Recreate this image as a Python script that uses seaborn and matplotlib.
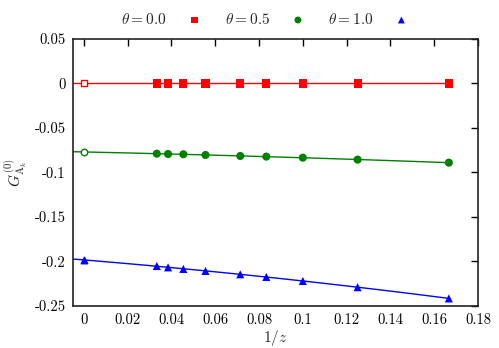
import numpy as np
import pandas as pd
import matplotlib
matplotlib.use("Agg")
import matplotlib.pyplot as plt
from matplotlib.ticker import MultipleLocator
import seaborn as sns

# data: 1/z for z = 30, 26, 22, 18, 14, 12, 10, 8, 6
inv_z = [1/30, 1/26, 1/22, 1/18, 1/14, 1/12, 1/10, 1/8, 1/6]
g_theta00 = [0.0, 0.0, 0.0, 0.0, 0.0, 0.0, 0.0, 0.0, 0.0]
g_theta05 = [-0.0789, -0.0793, -0.0796, -0.0804, -0.0815, -0.0822, -0.0834, -0.0856, -0.0890]
g_theta10 = [-0.2052, -0.2067, -0.2085, -0.2107, -0.2145, -0.2175, -0.2220, -0.2290, -0.2416]
# extrapolated values at 1/z = 0
g_extrap = [0.0, -0.0767, -0.1985]

labels = [r"$\theta = 0.0$", r"$\theta = 0.5$", r"$\theta = 1.0$"]
colors = ["#ff0000", "#008000", "#0000ff"]
markers = ["s", "o", "^"]
extrap_filled = [False, False, True]

sns.set_style("white")
plt.rcParams["font.family"] = ["cmr10", "DejaVu Serif"]
plt.rcParams["mathtext.fontset"] = "cm"
plt.rcParams["axes.unicode_minus"] = False
plt.rcParams["axes.formatter.use_mathtext"] = True

fig = plt.figure(figsize=(4.99, 3.48), dpi=100)
ax = fig.add_axes([0.146, 0.121, 0.812, 0.767])

x_left, x_right = -0.005, 0.18
series = [g_theta00, g_theta05, g_theta10]
for ys, lab, c, m, y0, filled in zip(series, labels, colors, markers, g_extrap, extrap_filled):
    df = pd.DataFrame({"x": inv_z, "y": ys})
    # quadratic fit line
    coef = np.polyfit(df["x"], df["y"], 2)
    xf = np.linspace(x_left, max(inv_z), 100)
    sns.lineplot(x=xf, y=np.polyval(coef, xf), color=c, lw=1.0, ax=ax)
    sns.scatterplot(data=df, x="x", y="y", color=c, marker=m, s=34,
                    edgecolor="none", ax=ax, label=lab, zorder=3)
    ax.scatter([0], [y0], marker=m, s=22, facecolor=c if filled else "white",
               edgecolor=c, linewidth=1.0, zorder=3)

ax.set_xlim(x_left, x_right)
ax.set_ylim(-0.25, 0.05)
ax.xaxis.set_major_locator(MultipleLocator(0.02))
ax.yaxis.set_major_locator(MultipleLocator(0.05))
ax.xaxis.set_major_formatter(plt.FuncFormatter(lambda v, p: "%g" % round(v, 4)))
ax.yaxis.set_major_formatter(plt.FuncFormatter(lambda v, p: "%g" % round(v, 4)))
ax.tick_params(direction="in", top=True, right=True, length=5, width=1,
               labelsize=10.5, colors="black", pad=5)
for sp in ax.spines.values():
    sp.set_color("#222222")
    sp.set_linewidth(1.2)

ax.set_xlabel(r"$1/z$", fontsize=11, labelpad=1)
ax.set_ylabel(r"$G^{(0)}_{\mathrm{A}_k}$", fontsize=11, labelpad=4)

handles, labs = ax.get_legend_handles_labels()
ax.get_legend().remove()
fig.legend(handles, labs, loc="upper center", bbox_to_anchor=(0.535, 1.005),
           ncol=3, frameon=False, markerfirst=False, fontsize=11,
           markerscale=0.85, columnspacing=1.2, handletextpad=1.1,
           handlelength=1.5)

fig.savefig("out.png", dpi=100)
